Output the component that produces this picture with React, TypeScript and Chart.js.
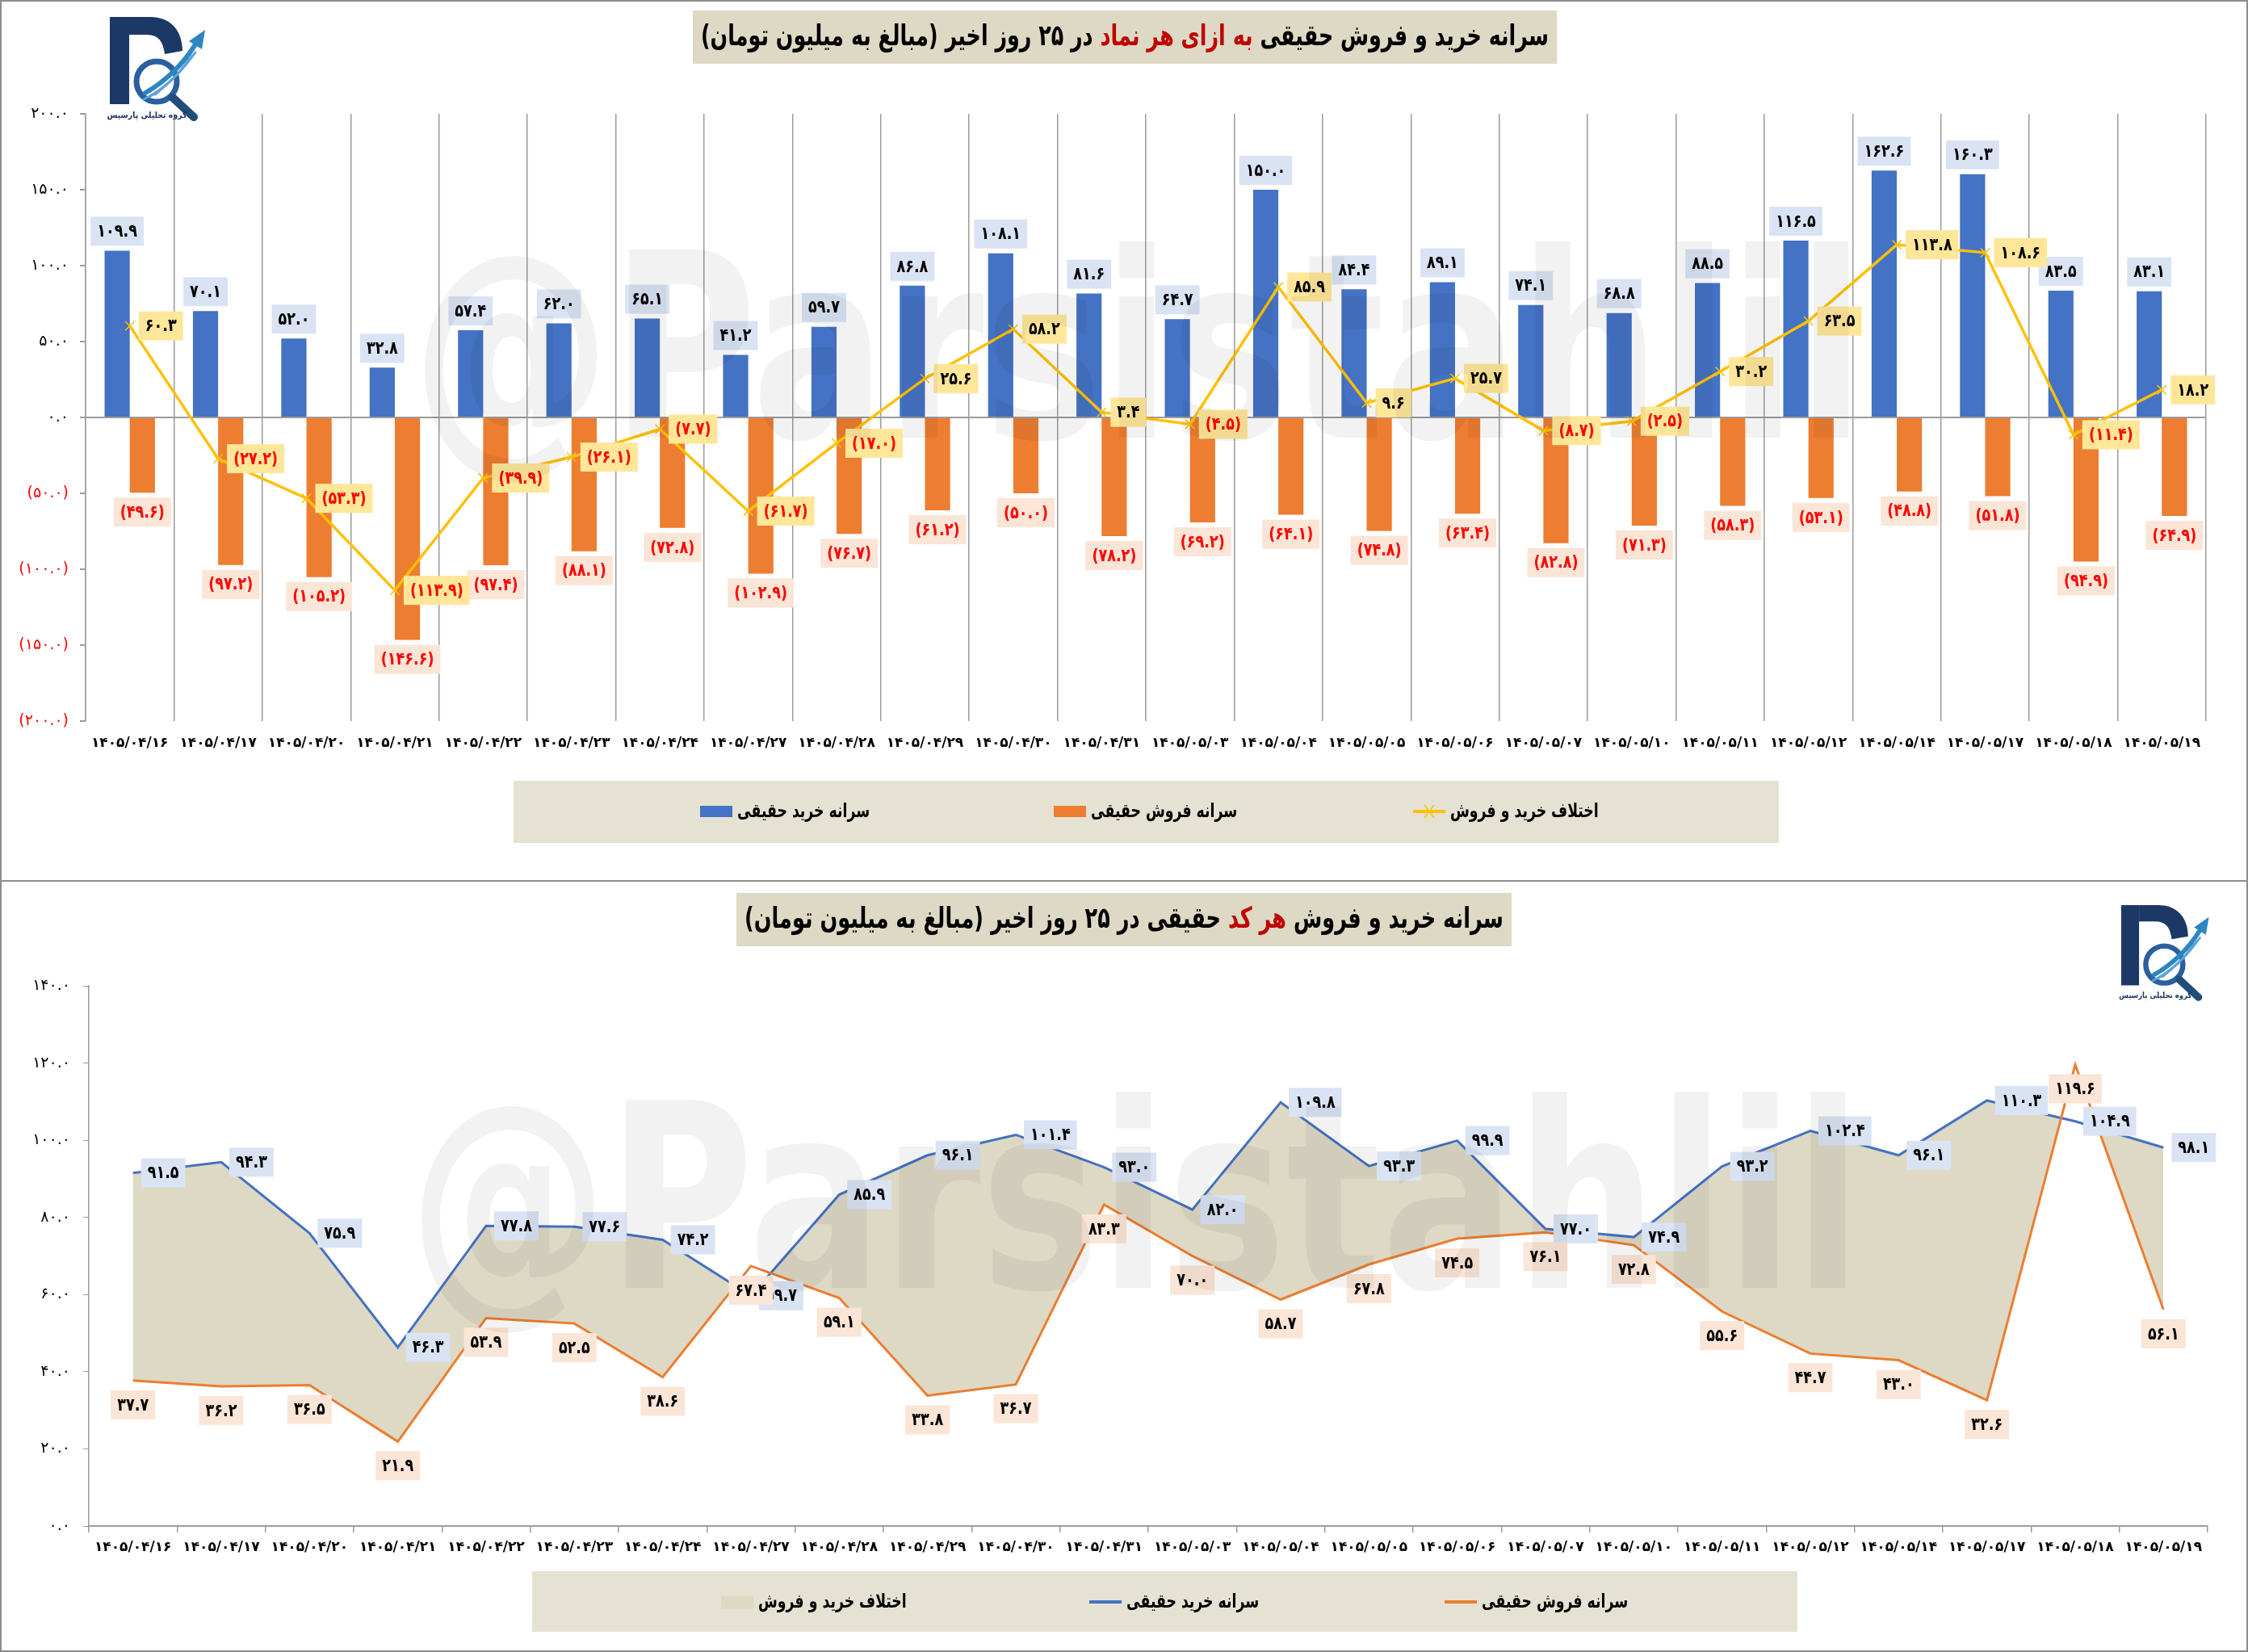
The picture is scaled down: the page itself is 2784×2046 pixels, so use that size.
import React, { useEffect, useRef } from 'react';
import { Chart, registerables } from 'chart.js';
Chart.register(...registerables);

// ---------- data ----------
const dates = [
  '۱۴۰۵/۰۴/۱۶', '۱۴۰۵/۰۴/۱۷', '۱۴۰۵/۰۴/۲۰', '۱۴۰۵/۰۴/۲۱', '۱۴۰۵/۰۴/۲۲', '۱۴۰۵/۰۴/۲۳',
  '۱۴۰۵/۰۴/۲۴', '۱۴۰۵/۰۴/۲۷', '۱۴۰۵/۰۴/۲۸', '۱۴۰۵/۰۴/۲۹', '۱۴۰۵/۰۴/۳۰', '۱۴۰۵/۰۴/۳۱',
  '۱۴۰۵/۰۵/۰۳', '۱۴۰۵/۰۵/۰۴', '۱۴۰۵/۰۵/۰۵', '۱۴۰۵/۰۵/۰۶', '۱۴۰۵/۰۵/۰۷', '۱۴۰۵/۰۵/۱۰',
  '۱۴۰۵/۰۵/۱۱', '۱۴۰۵/۰۵/۱۲', '۱۴۰۵/۰۵/۱۴', '۱۴۰۵/۰۵/۱۷', '۱۴۰۵/۰۵/۱۸', '۱۴۰۵/۰۵/۱۹',
];
const buyPerSymbol = [109.9, 70.1, 52.0, 32.8, 57.4, 62.0, 65.1, 41.2, 59.7, 86.8, 108.1, 81.6, 64.7, 150.0, 84.4, 89.1, 74.1, 68.8, 88.5, 116.5, 162.6, 160.3, 83.5, 83.1];
const sellPerSymbol = [-49.6, -97.2, -105.2, -146.6, -97.4, -88.1, -72.8, -102.9, -76.7, -61.2, -50.0, -78.2, -69.2, -64.1, -74.8, -63.4, -82.8, -71.3, -58.3, -53.1, -48.8, -51.8, -94.9, -64.9];
const diffPerSymbol = [60.3, -27.2, -53.3, -113.9, -39.9, -26.1, -7.7, -61.7, -17.0, 25.6, 58.2, 3.4, -4.5, 85.9, 9.6, 25.7, -8.7, -2.5, 30.2, 63.5, 113.8, 108.6, -11.4, 18.2];
const buyPerCode = [91.5, 94.3, 75.9, 46.3, 77.8, 77.6, 74.2, 59.7, 85.9, 96.1, 101.4, 93.0, 82.0, 109.8, 93.3, 99.9, 77.0, 74.9, 93.2, 102.4, 96.1, 110.3, 104.9, 98.1];
const sellPerCode = [37.7, 36.2, 36.5, 21.9, 53.9, 52.5, 38.6, 67.4, 59.1, 33.8, 36.7, 83.3, 70.0, 58.7, 67.8, 74.5, 76.1, 72.8, 55.6, 44.7, 43.0, 32.6, 119.6, 56.1];

const buyLabel = 'سرانه خرید حقیقی';
const sellLabel = 'سرانه فروش حقیقی';
const diffLabel = 'اختلاف خرید و فروش';
const topTitle = ['سرانه خرید و فروش حقیقی ', 'به ازای هر نماد', ' در ۲۵ روز اخیر (مبالغ به میلیون تومان)'];
const botTitle = ['سرانه خرید و فروش ', 'هر کد', ' حقیقی در ۲۵ روز اخیر (مبالغ به میلیون تومان)'];
const watermark = '@Parsistahlil';
const logoText = 'گروه تحلیلی پارسیس';

// ---------- helpers ----------
const FF = '"DejaVu Sans", sans-serif';
const FA = '۰۱۲۳۴۵۶۷۸۹';
const fa = (s: string) => s.replace(/[0-9]/g, (d) => FA[+d]);
const fmt = (v: number) => (v < 0 ? `(${fa(Math.abs(v).toFixed(1))})` : fa(v.toFixed(1)));

const BLUE = '#4472C4';
const ORANGE = '#ED7D31';
const YELLOW = '#FFC000';
const BEIGE = '#DDD9C4';
const LEGEND_BG = '#E5E2D3';
const GRID = '#9b9b9b';
const BORDER = '#8c8c8c';

const W = 2784;
const TOP_H = 1092;
const BOT_H = 954;

function drawText(ctx: CanvasRenderingContext2D, text: string, x: number, y: number, font: string, color: string, sx = 1, align: CanvasTextAlign = 'left', dir: CanvasDirection = 'ltr') {
  ctx.save();
  ctx.font = font;
  ctx.fillStyle = color;
  ctx.direction = dir;
  ctx.textAlign = align;
  ctx.textBaseline = 'middle';
  ctx.translate(x, y);
  ctx.scale(sx, 1);
  ctx.fillText(text, 0, 0);
  ctx.restore();
}

function measure(ctx: CanvasRenderingContext2D, text: string, font: string, dir: CanvasDirection = 'ltr') {
  ctx.save();
  ctx.font = font;
  ctx.direction = dir;
  const w = ctx.measureText(text).width;
  ctx.restore();
  return w;
}

const LABEL_FONT = `bold 22px ${FF}`;
const LABEL_SX = 0.8;
const BOX_H = 36;
const PAD_X = 8;

function labelBox(ctx: CanvasRenderingContext2D, text: string, x: number, cy: number, bg: string, color: string, anchor: 'center' | 'left') {
  const tw = measure(ctx, text, LABEL_FONT) * LABEL_SX;
  const w = tw + PAD_X * 2;
  const x0 = anchor === 'left' ? x : x - w / 2;
  ctx.save();
  ctx.fillStyle = bg;
  ctx.fillRect(x0, cy - BOX_H / 2, w, BOX_H);
  ctx.restore();
  drawText(ctx, text, x0 + w / 2, cy + 1, LABEL_FONT, color, LABEL_SX, 'center');
}

function drawTitle(ctx: CanvasRenderingContext2D, segs: string[], redIdx: number, x0: number, y0: number, w: number, h: number) {
  ctx.save();
  ctx.fillStyle = BEIGE;
  ctx.fillRect(x0, y0, w, h);
  ctx.restore();
  const font = `bold 36px ${FF}`;
  const widths = segs.map((s) => measure(ctx, s, font, 'rtl'));
  const total = widths.reduce((a, b) => a + b, 0);
  const target = w - 20;
  const sx = Math.min(1, target / total);
  let r = x0 + w / 2 + (total * sx) / 2;
  const cy = y0 + h / 2 + 1;
  segs.forEach((s, i) => {
    drawText(ctx, s, r, cy, font, i === redIdx ? '#C00000' : '#000000', sx, 'right', 'rtl');
    r -= widths[i] * sx;
  });
}

type LegendItem = { kind: 'rect' | 'line' | 'area'; color: string; x: number; text: string; marker?: boolean };

function drawLegend(ctx: CanvasRenderingContext2D, box: [number, number, number, number], items: LegendItem[], cy: number) {
  ctx.save();
  ctx.fillStyle = LEGEND_BG;
  ctx.fillRect(box[0], box[1], box[2], box[3]);
  ctx.restore();
  const font = `bold 24px ${FF}`;
  items.forEach((it) => {
    ctx.save();
    if (it.kind === 'rect' || it.kind === 'area') {
      ctx.fillStyle = it.color;
      ctx.fillRect(it.x, cy - 7, 40, it.kind === 'area' ? 16 : 14);
    } else {
      ctx.strokeStyle = it.color;
      ctx.lineWidth = 4;
      ctx.beginPath();
      ctx.moveTo(it.x, cy);
      ctx.lineTo(it.x + 40, cy);
      ctx.stroke();
      if (it.marker) {
        ctx.lineWidth = 1.5;
        ctx.beginPath();
        ctx.moveTo(it.x + 14, cy - 8);
        ctx.lineTo(it.x + 26, cy + 8);
        ctx.moveTo(it.x + 26, cy - 8);
        ctx.lineTo(it.x + 14, cy + 8);
        ctx.stroke();
      }
    }
    ctx.restore();
    drawText(ctx, it.text, it.x + 46, cy + 1, font, '#000000', 0.72, 'left', 'rtl');
  });
}

function drawLogo(ctx: CanvasRenderingContext2D, x: number, y: number, s: number) {
  ctx.save();
  ctx.translate(x, y);
  ctx.scale(s, s);
  const navy = '#1C3866';
  ctx.fillStyle = navy;
  ctx.fillRect(0, 0, 24, 108);
  ctx.beginPath();
  ctx.moveTo(24, 0);
  ctx.lineTo(50, 0);
  ctx.bezierCurveTo(78, 0, 90, 20, 90, 42);
  ctx.lineTo(68, 46);
  ctx.bezierCurveTo(66, 30, 60, 22, 46, 22);
  ctx.lineTo(24, 22);
  ctx.closePath();
  ctx.fill();
  ctx.lineWidth = 7;
  ctx.strokeStyle = '#2A5FA0';
  ctx.beginPath();
  ctx.arc(58, 80, 25, 0, Math.PI * 2);
  ctx.stroke();
  ctx.lineCap = 'round';
  ctx.strokeStyle = '#1F4E79';
  ctx.lineWidth = 10;
  ctx.beginPath();
  ctx.moveTo(78, 100);
  ctx.lineTo(104, 124);
  ctx.stroke();
  ctx.strokeStyle = '#5DA4DC';
  ctx.lineWidth = 3;
  for (let k = 0; k < 3; k++) {
    ctx.beginPath();
    ctx.moveTo(42 + k * 7, 102 - k * 3);
    ctx.quadraticCurveTo(78 + k * 4, 84 - k * 6, 98 + k * 4, 52 - k * 4);
    ctx.stroke();
  }
  ctx.strokeStyle = '#2E86C1';
  ctx.lineWidth = 6;
  ctx.beginPath();
  ctx.moveTo(44, 94);
  ctx.quadraticCurveTo(82, 72, 106, 34);
  ctx.stroke();
  ctx.fillStyle = '#2E86C1';
  ctx.beginPath();
  ctx.moveTo(118, 16);
  ctx.lineTo(98, 30);
  ctx.lineTo(114, 40);
  ctx.closePath();
  ctx.fill();
  ctx.restore();
  drawText(ctx, logoText, x + 46 * s, y + 122 * s, `bold ${Math.round(11 * s)}px ${FF}`, '#1C3866', 0.85, 'center', 'rtl');
}

function drawWatermark(ctx: CanvasRenderingContext2D, left: number, baseline: number) {
  const font = `bold 320px ${FF}`;
  const w = measure(ctx, watermark, font);
  ctx.save();
  ctx.font = font;
  ctx.fillStyle = 'rgba(0,0,0,0.05)';
  ctx.textAlign = 'left';
  ctx.textBaseline = 'alphabetic';
  ctx.translate(left, baseline);
  ctx.scale(1800 / w, 1);
  ctx.fillText(watermark, 0, 0);
  ctx.restore();
}

const whiteBg = {
  id: 'whiteBg',
  beforeDraw(chart: any) {
    const ctx = chart.ctx;
    ctx.save();
    ctx.fillStyle = '#ffffff';
    ctx.fillRect(0, 0, chart.width, chart.height);
    ctx.restore();
  },
};

// ---------- top chart ----------
const topDecor = {
  id: 'topDecor',
  afterDraw(chart: any) {
    const ctx: CanvasRenderingContext2D = chart.ctx;
    const diffMeta = chart.getDatasetMeta(0);
    const buyMeta = chart.getDatasetMeta(1);
    const sellMeta = chart.getDatasetMeta(2);
    buyPerSymbol.forEach((v, i) => {
      const el = buyMeta.data[i];
      labelBox(ctx, fmt(v), el.x, el.y - 6 - BOX_H / 2, '#DAE3F3', '#000000', 'center');
    });
    sellPerSymbol.forEach((v, i) => {
      const el = sellMeta.data[i];
      labelBox(ctx, fmt(v), el.x, el.y + 6 + BOX_H / 2, '#FBE5D6', '#FF0000', 'center');
    });
    diffPerSymbol.forEach((v, i) => {
      const el = diffMeta.data[i];
      labelBox(ctx, fmt(v), el.x + 11, el.y, '#FFE699', v < 0 ? '#FF0000' : '#000000', 'left');
    });
    drawTitle(ctx, topTitle, 1, 858, 13, 1070, 66);
    drawLegend(ctx, [636, 967, 1567, 77], [
      { kind: 'rect', color: BLUE, x: 867, text: buyLabel },
      { kind: 'rect', color: ORANGE, x: 1305, text: sellLabel },
      { kind: 'line', color: YELLOW, x: 1750, text: diffLabel, marker: true },
    ], 1005);
    drawLogo(ctx, 136, 21, 1);
    ctx.save();
    ctx.strokeStyle = BORDER;
    ctx.lineWidth = 2;
    ctx.strokeRect(1, 1, W - 2, TOP_H - 2);
    ctx.restore();
    drawWatermark(ctx, 510, 542);
  },
};

function topConfig(): any {
  return {
    type: 'bar',
    data: {
      labels: dates,
      datasets: [
        {
          type: 'line', label: diffLabel, data: diffPerSymbol, borderColor: YELLOW, backgroundColor: YELLOW,
          borderWidth: 3.5, pointStyle: 'crossRot', pointRadius: 8, pointHoverRadius: 8, pointBorderWidth: 1.5,
          pointBorderColor: YELLOW, tension: 0, fill: false, order: 0,
        },
        { label: buyLabel, data: buyPerSymbol, backgroundColor: BLUE, categoryPercentage: 0.57, barPercentage: 1, order: 1 },
        { label: sellLabel, data: sellPerSymbol, backgroundColor: ORANGE, categoryPercentage: 0.57, barPercentage: 1, order: 1 },
      ],
    },
    options: {
      responsive: false,
      animation: false,
      layout: { padding: { left: 0, right: 52, top: 141, bottom: 0 } },
      plugins: { legend: { display: false }, tooltip: { enabled: false }, title: { display: false } },
      scales: {
        x: {
          grid: { offset: true, drawTicks: false, color: GRID, lineWidth: 1.5 },
          border: { display: false },
          ticks: { color: '#000', font: { family: 'DejaVu Sans', size: 17, weight: 'bold' }, padding: 17, maxRotation: 0, minRotation: 0, autoSkip: false },
          afterFit: (s: any) => { s.height = TOP_H - 893; },
        },
        y: {
          min: -200,
          max: 200,
          ticks: {
            stepSize: 50,
            padding: 14,
            callback: (v: any) => fmt(Number(v)),
            color: (c: any) => (c.tick && c.tick.value < 0 ? '#FF0000' : '#000000'),
            font: { family: 'DejaVu Sans', size: 19 },
          },
          grid: {
            color: (c: any) => (c.tick && c.tick.value === 0 ? GRID : 'rgba(0,0,0,0)'),
            tickColor: GRID,
            tickLength: 7,
            lineWidth: 2,
          },
          border: { color: GRID, width: 1.5 },
          afterFit: (s: any) => { s.width = 106; },
        },
      },
    },
    plugins: [whiteBg, topDecor],
  };
}

// ---------- bottom chart ----------
const botDecor = {
  id: 'botDecor',
  afterDraw(chart: any) {
    const ctx: CanvasRenderingContext2D = chart.ctx;
    const buyMeta = chart.getDatasetMeta(1);
    const sellMeta = chart.getDatasetMeta(2);
    buyPerCode.forEach((v, i) => {
      const el = buyMeta.data[i];
      labelBox(ctx, fmt(v), el.x + 10, el.y, '#DAE3F3', '#000000', 'left');
    });
    sellPerCode.forEach((v, i) => {
      const el = sellMeta.data[i];
      labelBox(ctx, fmt(v), el.x, el.y + 12 + BOX_H / 2, '#FBE5D6', '#000000', 'center');
    });
    drawTitle(ctx, botTitle, 1, 912, 14, 960, 66);
    drawLegend(ctx, [659, 854, 1567, 75], [
      { kind: 'area', color: BEIGE, x: 893, text: diffLabel },
      { kind: 'line', color: BLUE, x: 1349, text: buyLabel },
      { kind: 'line', color: ORANGE, x: 1789, text: sellLabel },
    ], 892);
    drawLogo(ctx, 2627, 29, 0.92);
    ctx.save();
    ctx.strokeStyle = BORDER;
    ctx.lineWidth = 2;
    ctx.beginPath();
    ctx.moveTo(1, 0);
    ctx.lineTo(1, BOT_H - 1);
    ctx.lineTo(W - 1, BOT_H - 1);
    ctx.lineTo(W - 1, 0);
    ctx.stroke();
    ctx.restore();
    drawWatermark(ctx, 506, 503);
  },
};

function botConfig(): any {
  return {
    type: 'line',
    data: {
      labels: dates,
      datasets: [
        {
          label: diffLabel, data: buyPerCode, borderColor: 'rgba(0,0,0,0)', borderWidth: 1, pointRadius: 0, pointHoverRadius: 0,
          backgroundColor: BEIGE, fill: { target: 2, above: BEIGE, below: 'rgba(0,0,0,0)' }, tension: 0, order: 3,
        },
        { label: buyLabel, data: buyPerCode, borderColor: BLUE, borderWidth: 3, pointRadius: 0, pointHoverRadius: 0, fill: false, tension: 0, order: 2 },
        { label: sellLabel, data: sellPerCode, borderColor: ORANGE, borderWidth: 3, pointRadius: 0, pointHoverRadius: 0, fill: false, tension: 0, order: 1 },
      ],
    },
    options: {
      responsive: false,
      animation: false,
      layout: { padding: { left: 0, right: 50, top: 129, bottom: 0 } },
      plugins: { legend: { display: false }, tooltip: { enabled: false }, title: { display: false } },
      scales: {
        x: {
          offset: true,
          grid: { offset: true, drawOnChartArea: false, color: GRID, tickColor: GRID, tickLength: 8, lineWidth: 1.5 },
          border: { display: true, color: GRID, width: 2 },
          ticks: { color: '#000', font: { family: 'DejaVu Sans', size: 17, weight: 'bold' }, padding: 8, maxRotation: 0, minRotation: 0, autoSkip: false },
          afterFit: (s: any) => { s.height = BOT_H - 798; },
        },
        y: {
          min: 0,
          max: 140,
          ticks: { stepSize: 20, padding: 16, callback: (v: any) => fmt(Number(v)), color: '#000', font: { family: 'DejaVu Sans', size: 19 } },
          grid: { drawOnChartArea: false, tickColor: GRID, tickLength: 7, color: GRID },
          border: { color: GRID, width: 1.5 },
          afterFit: (s: any) => { s.width = 110; },
        },
      },
    },
    plugins: [whiteBg, botDecor],
  };
}

export default function App() {
  const topRef = useRef<HTMLCanvasElement>(null);
  const botRef = useRef<HTMLCanvasElement>(null);
  useEffect(() => {
    document.body.style.margin = '0';
    const c1 = new Chart(topRef.current as HTMLCanvasElement, topConfig());
    const c2 = new Chart(botRef.current as HTMLCanvasElement, botConfig());
    return () => {
      c1.destroy();
      c2.destroy();
    };
  }, []);
  return (
    <div style={{ position: 'relative', width: W, height: TOP_H + BOT_H, background: '#fff', overflow: 'hidden' }}>
      <canvas ref={topRef} width={W} height={TOP_H} style={{ position: 'absolute', left: 0, top: 0, width: W, height: TOP_H }} />
      <canvas ref={botRef} width={W} height={BOT_H} style={{ position: 'absolute', left: 0, top: TOP_H, width: W, height: BOT_H }} />
    </div>
  );
}
